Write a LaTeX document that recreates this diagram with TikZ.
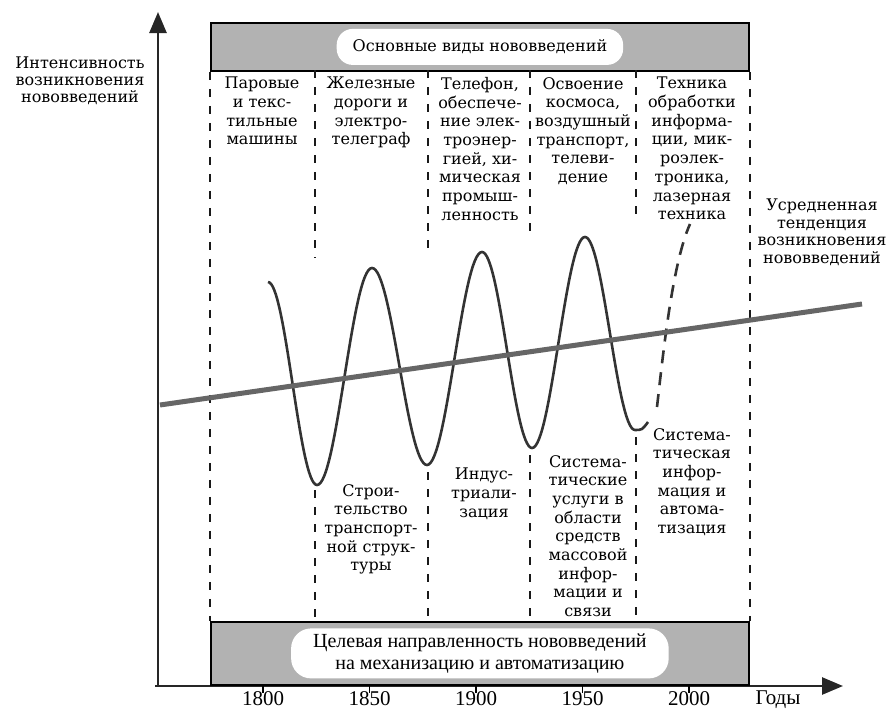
\documentclass[tikz,border=0pt]{standalone}
\usepackage{fontspec}
\setmainfont{DejaVu Serif}
\newfontfamily\narrowfont{Liberation Serif}
\usepackage{tikz}
\usetikzlibrary{positioning, arrows.meta, calc}

\begin{document}
\begin{tikzpicture}[
    x=1pt, y=-1pt,
    axis/.style={line width=2.6pt, black!85, -{Triangle[length=21pt, width=17pt]}},
    band/.style={draw=black, line width=1.8pt, fill=black!30, minimum width=538pt, anchor=north west, inner sep=0pt},
    bandtitle/.style={fill=white, rounded corners=16pt, align=center, inner xsep=16pt, minimum height=36pt},
    divider/.style={black!90, line width=1.6pt, dash pattern=on 8pt off 9pt},
    kind/.style={font=\fontsize{16}{18.7}\selectfont, align=center, anchor=north, inner sep=0pt},
    wave/.style={line width=2.6pt, black!80},
    trend/.style={line width=5pt, black!60},
    year/.style={font=\narrowfont\fontsize{21}{22}\selectfont, anchor=north, inner sep=0pt}
]
    \useasboundingbox (0,0) rectangle (893,715);

    % Axes
    \coordinate (origin) at (158,686);
    \coordinate (corner) at (155,686);
    \coordinate (ytip) at (158,12);
    \coordinate (xtip) at (843,686);
    \draw[axis] (origin) -- (ytip);
    \draw[axis] (corner) -- (xtip);

    % Bands on top and bottom
    \node[band, minimum height=48pt] (top band) at (210,22) {};
    \node[bandtitle, font=\fontsize{16}{18}\selectfont] (top title) at (top band.center) {Основные виды нововведений};
    \node[band, minimum height=63pt] (bottom band) at (210,621) {};
    \node[bandtitle, font=\narrowfont\fontsize{20}{22}\selectfont, inner xsep=22pt, minimum height=50pt, rounded corners=20pt] (bottom title) at (bottom band.center) {Целевая направленность нововведений\\на механизацию и автоматизацию};

    % Dashed dividers
    \draw[divider] (top band.south west) -- (bottom band.north west);
    \draw[divider] (top band.south east) -- (bottom band.north east);
    \foreach \x/\a/\b in {315/258/490, 428/250/472, 530/237/455, 636/217/437} {
        \draw[divider] (\x,70) -- (\x,\a);
        \draw[divider] (\x,\b) -- (\x,621);
    }

    % Kinds of innovations
    \node[kind] (steam) at (262,77) {Паровые\\и текс-\\тильные\\машины};
    \node[kind] (rail) at (371,77) {Железные\\дороги и\\электро-\\телеграф};
    \node[kind] (phone) at (480,77) {Телефон,\\обеспече-\\ние элек-\\троэнер-\\гией, хи-\\мическая\\промыш-\\ленность};
    \node[kind] (space) at (583,77) {Освоение\\космоса,\\воздушный\\транспорт,\\телеви-\\дение};
    \node[kind] (info) at (692,77) {Техника\\обработки\\информа-\\ции, мик-\\роэлек-\\троника,\\лазерная\\техника};

    % Targets of innovations
    \node[kind] (building) at (371,484) {Строи-\\тельство\\транспорт-\\ной струк-\\туры};
    \node[kind] (industry) at (484,468) {Индус-\\триали-\\зация};
    \node[kind] (services) at (588,455) {Система-\\тические\\услуги в\\области\\средств\\массовой\\инфор-\\мации и\\связи};
    \node[kind] (automation) at (692,428) {Система-\\тическая\\инфор-\\мация и\\автома-\\тизация};

    % Axis labels
    \node[kind, font=\fontsize{16}{17}\selectfont] (intensity) at (80,57) {Интенсивность\\возникновения\\нововведений};
    \node[kind, font=\fontsize{16}{17.5}\selectfont] (trend label) at (822,199) {Усредненная\\тенденция\\возникновения\\нововведений};
    \foreach \yr [count=\i from 0] in {1800,1850,1900,1950,2000} {
        \draw[line width=1.2pt] (263+106.5*\i,686) -- ++(0,7);
        \node[year] (y\yr) at (263+106.5*\i,691) {\yr};
    }
    \node[year] (years) at (778,691) {Годы};

    % Waves of innovations
    \draw[wave] (268,282) cos (292.5,383.5) sin (317,485) cos (344.5,376.5) sin (372,268)
        cos (399.5,366.5) sin (427,465) cos (454.5,358.5) sin (482,252)
        cos (507,350) sin (532,448) cos (558.5,342.5) sin (585,237)
        cos (610,333.5) sin (635,430) .. controls (642,430) .. (648,422);
    \draw[wave, dash pattern=on 13pt off 9pt] (657,407) .. controls (664,345) and (673,262) .. (690,224);

    % Averaged trend
    \coordinate (trend start) at (160,405);
    \coordinate (trend end) at (862,304);
    \draw[trend] (trend start) -- (trend end);
\end{tikzpicture}
\end{document}
